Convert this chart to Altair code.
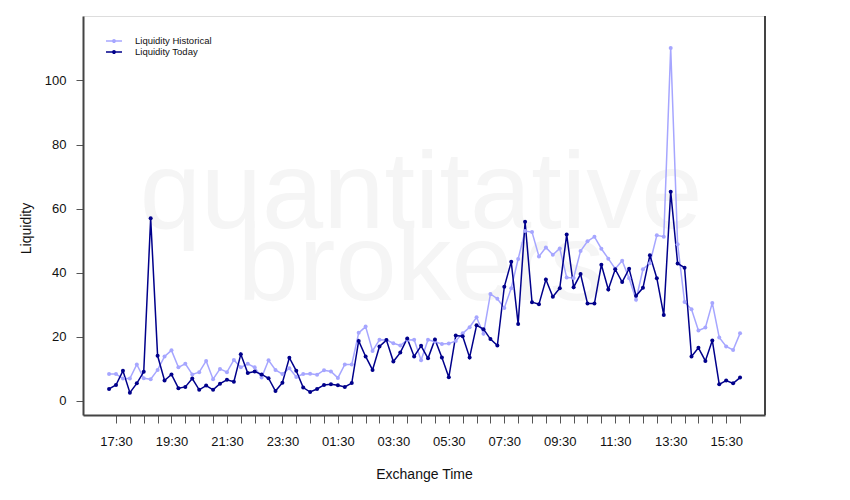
import altair as alt
import pandas as pd

# ---- data (15-minute samples, 17:15 .. 16:00) ----
first_sample = "17:15"
tick_labels = ["17:30", "19:30", "21:30", "23:30", "01:30", "03:30",
               "05:30", "07:30", "09:30", "11:30", "13:30", "15:30"]

liquidity_today = [
    3.75, 5.0, 9.4, 2.6, 5.5, 9.1, 57.0, 14.1, 6.4, 8.3,
    4.0, 4.4, 7.0, 3.5, 4.8, 3.5, 5.4, 6.6, 6.0, 14.6,
    8.7, 9.2, 8.3, 7.1, 3.1, 5.7, 13.5, 9.4, 4.2, 2.8,
    3.75, 5.0, 5.2, 4.9, 4.4, 5.6, 18.75, 13.9, 9.7, 17.0,
    19.0, 12.3, 15.1, 19.5, 13.9, 17.2, 13.3, 19.2, 13.6, 7.4,
    20.4, 20.2, 13.6, 23.6, 22.4, 19.3, 17.3, 35.6, 43.4, 24.0,
    55.9, 30.8, 30.2, 37.9, 32.5, 35.2, 51.9, 35.5, 39.6, 30.4,
    30.4, 42.5, 34.8, 41.1, 37.1, 41.25, 32.8, 35.3, 45.5, 38.3,
    26.8, 65.3, 42.9, 41.6, 13.9, 16.6, 12.5, 18.9, 5.2, 6.4,
    5.5, 7.3,
]

liquidity_historical = [
    8.4, 8.4, 7.0, 7.0, 11.4, 7.1, 6.8, 9.7, 13.9, 15.8,
    10.5, 11.6, 8.3, 9.0, 12.5, 6.8, 10.0, 9.0, 12.8, 10.5,
    11.6, 10.5, 7.3, 12.7, 9.7, 8.4, 10.2, 7.5, 8.4, 8.5,
    8.2, 9.6, 9.2, 7.2, 11.4, 11.4, 21.25, 23.2, 15.6, 19.1,
    19.0, 18.0, 17.3, 19.0, 19.1, 12.7, 19.1, 18.5, 17.8, 17.9,
    18.75, 21.1, 23.0, 26.1, 21.0, 33.4, 31.9, 29.0, 35.2, 44.3,
    53.0, 52.7, 45.1, 47.9, 45.6, 47.6, 38.5, 38.4, 46.8, 49.8,
    51.25, 47.5, 44.4, 41.25, 43.75, 38.3, 31.6, 41.1, 43.0, 51.7,
    51.25, 110.1, 48.9, 30.9, 28.6, 22.0, 22.9, 30.6, 19.8, 17.0,
    15.9, 21.1,
]

series_names = ["Liquidity Historical", "Liquidity Today"]
series_colors = ["#a6a6ff", "#00008b"]
watermark_lines = ["quantitative", "brokers"]

n = len(liquidity_today)
df = pd.DataFrame({
    "slot": list(range(n)) * 2,
    "value": liquidity_historical + liquidity_today,
    "series": [series_names[0]] * n + [series_names[1]] * n,
})

FONT = "Liberation Sans"
W, H = 682, 399

label_array = "[" + ",".join("'%s'" % t for t in tick_labels) + "]"
x_label_expr = "datum.value % 8 == 1 ? " + label_array + "[(datum.value - 1) / 8] : ''"

x = alt.X(
    "slot:Q",
    scale=alt.Scale(domain=[-3.76, 94.6], nice=False, zero=False),
    axis=alt.Axis(
        title="Exchange Time",
        values=list(range(1, n, 2)),
        labelExpr=x_label_expr,
        grid=False,
        tickSize=8,
        tickColor="#555555",
        tickWidth=1,
        domainColor="#444444",
        domainWidth=2,
        labelPadding=12,
        labelFont=FONT,
        labelFontSize=13,
        labelColor="#111111",
        titleFont=FONT,
        titleFontSize=14,
        titleFontWeight="normal",
        titleColor="#111111",
        titleBaseline="middle",
        titleY=59,
    ),
)

y = alt.Y(
    "value:Q",
    scale=alt.Scale(domain=[-4.37, 120.1], nice=False, zero=False),
    axis=alt.Axis(
        title="Liquidity",
        values=[0, 20, 40, 60, 80, 100],
        grid=False,
        tickSize=7,
        tickColor="#555555",
        tickWidth=1,
        domainColor="#444444",
        domainWidth=2,
        labelPadding=10,
        labelFont=FONT,
        labelFontSize=13,
        labelColor="#111111",
        titleFont=FONT,
        titleFontSize=14,
        titleFontWeight="normal",
        titleColor="#111111",
        titleBaseline="middle",
        titleAlign="center",
        titleX=-57,
        titleY=212,
    ),
)

legend_symbol = "M-2,0H2M-0.3,0A0.3,0.3,0,1,1,0.3,0A0.3,0.3,0,1,1,-0.3,0Z"

color = alt.Color(
    "series:N",
    scale=alt.Scale(domain=series_names, range=series_colors),
    legend=alt.Legend(
        title=None,
        orient="none",
        legendX=26,
        legendY=20,
        padding=0,
        symbolType=legend_symbol,
        symbolSize=64,
        symbolStrokeWidth=1.5,
        labelOffset=16,
        rowPadding=1,
        labelFont=FONT,
        labelFontSize=9.5,
        labelColor="#111111",
    ),
)

wm1 = alt.Chart(pd.DataFrame({"t": [watermark_lines[0]]})).mark_text(
    font=FONT, fontSize=110, color="#f5f5f5", align="center", baseline="alphabetic"
).encode(text="t:N", x=alt.value(338), y=alt.value(212))

wm2 = alt.Chart(pd.DataFrame({"t": [watermark_lines[1]]})).mark_text(
    font=FONT, fontSize=110, color="#f5f5f5", align="center", baseline="alphabetic"
).encode(text="t:N", x=alt.value(338), y=alt.value(284))

lines = alt.Chart(df).mark_line(
    strokeWidth=1.5,
    point=alt.OverlayMarkDef(filled=True, size=16, opacity=1),
).encode(x=x, y=y, color=color)

right_frame = alt.Chart(pd.DataFrame({"a": [0]})).mark_rule(
    color="#444444", strokeWidth=2
).encode(x=alt.value(W), y=alt.value(0), y2=alt.value(H))

chart = alt.layer(wm1, wm2, lines, right_frame).properties(
    width=W,
    height=H,
    autosize=alt.AutoSizeParams(type="none"),
    padding={"left": 75, "top": 8, "right": 77, "bottom": 77},
).configure_view(stroke=None).configure(background="white")

chart.save("out.html", embed_options={"renderer": "svg", "actions": False})
